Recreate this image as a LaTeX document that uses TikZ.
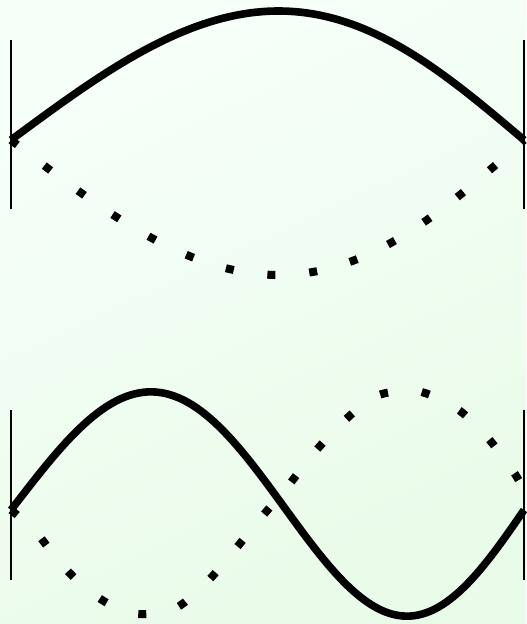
\documentclass[tikz,border=0pt]{standalone}
\usepackage{tikz}
\definecolor{ink}{HTML}{000000}
\definecolor{mintTop}{HTML}{F7FFF9}
\definecolor{mintLow}{HTML}{E9FBE9}
\tikzset{
  wall/.style={line width=0.7pt,draw=ink},
  string/.style={line width=3.8pt,draw=ink,line cap=butt},
  ghost/.style={line width=4pt,draw=ink,line cap=butt,dash pattern=on 4pt off 17pt}
}

\begin{document}
\begin{tikzpicture}[x=0.5pt,y=-0.5pt]
  \useasboundingbox (0,0) rectangle (526,624);
  \shade[top color=mintTop,bottom color=mintLow,shading angle=25] (0,0) rectangle (526,624);
  % upper string, first harmonic
  \coordinate (wa1) at (11,40);   \coordinate (wa2) at (11,209);
  \coordinate (wb1) at (524,40);  \coordinate (wb2) at (524,209);
  \draw[wall] (wa1) -- (wa2);
  \draw[wall] (wb1) -- (wb2);
  \draw[string] plot[domain=0:180,samples=80,variable=\t]
    ({11+2.85*\t+11*sin(\t)},{140-129*sin(\t)});
  \draw[ghost] plot[domain=0:180,samples=80,variable=\t]
    ({11+2.85*\t+11*sin(\t)},{140+135*sin(\t)});
  % lower string, second harmonic
  \coordinate (wc1) at (11,410);  \coordinate (wc2) at (11,580);
  \coordinate (wd1) at (524,410); \coordinate (wd2) at (524,580);
  \draw[wall] (wc1) -- (wc2);
  \draw[wall] (wd1) -- (wd2);
  \draw[string] plot[domain=0:360,samples=120,variable=\t]
    ({11+1.425*\t+10*sin(\t/2)},{504-112*sin(\t)+6*cos(\t)});
  \draw[ghost] plot[smooth] coordinates {(11,510) (35,531) (62,565) (93,594) (130,613)
    (172,610) (205,584) (233,552) (260,519) (288,486) (313,454) (343,422)
    (376,396) (417,391) (456,408) (487,437) (513,471) (524,490)};
\end{tikzpicture}
\end{document}
